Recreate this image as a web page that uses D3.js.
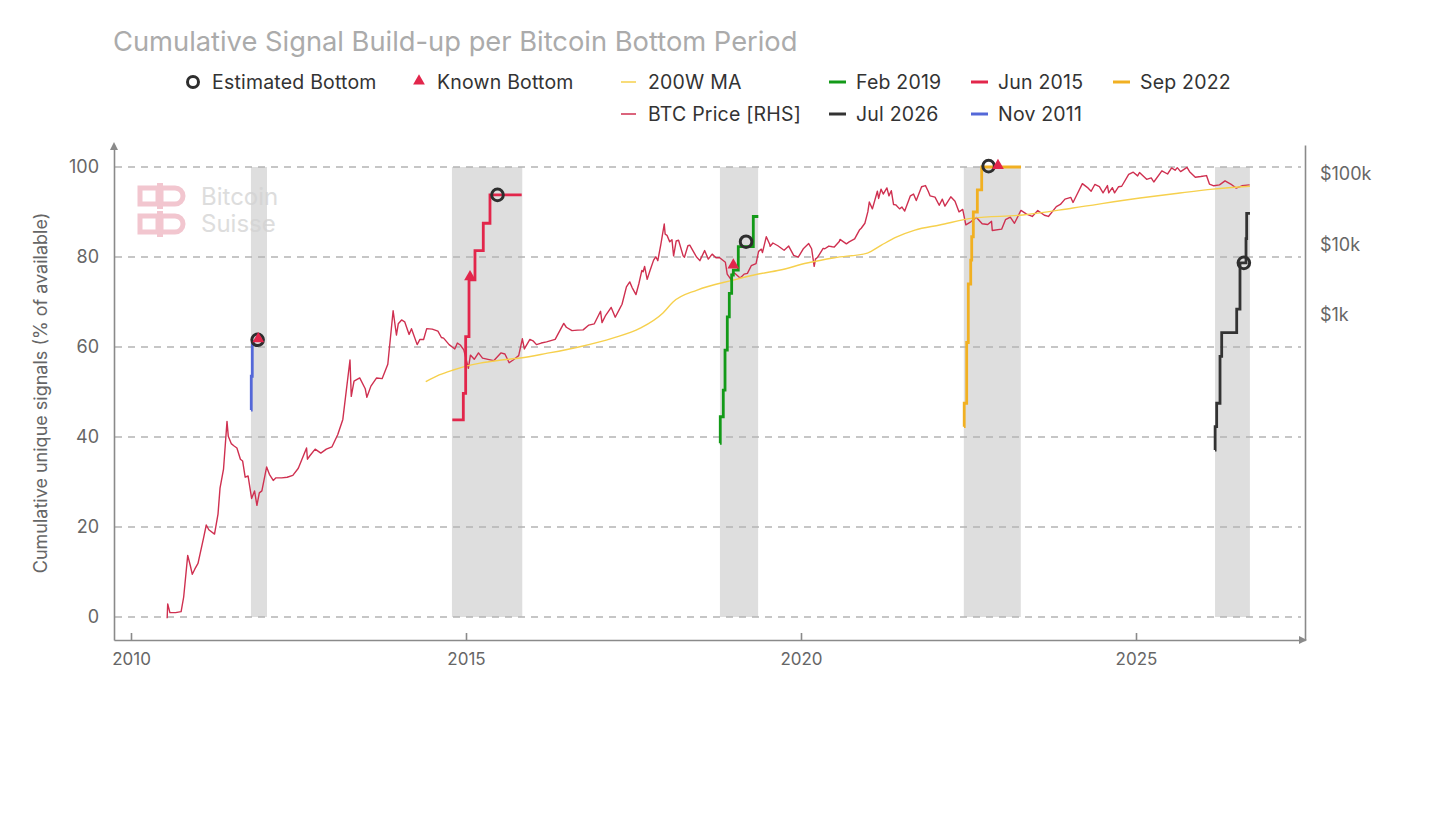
<!DOCTYPE html>
<html>
<head>
<meta charset="utf-8">
<script src="https://cdn.jsdelivr.net/npm/d3@7"></script>
<style>
  body { margin: 0; background: #fff; }
  svg { display: block; font-family: Inter, "Noto Sans", sans-serif; }
</style>
</head>
<body>
<script>
// ---- data ----
var btcPrice = [
  ["2010-07-17",0.05],["2010-07-20",0.08],["2010-08-01",0.06],["2010-09-01",0.06],["2010-10-01",0.062],
  ["2010-10-15",0.10],["2010-11-06",0.39],["2010-11-20",0.28],["2010-12-01",0.21],["2010-12-15",0.25],
  ["2011-01-01",0.30],["2011-02-01",0.70],["2011-02-15",1.05],["2011-03-01",0.90],["2011-04-01",0.78],
  ["2011-04-20",1.5],["2011-05-01",3.5],["2011-05-20",6.5],["2011-06-08",31],["2011-06-15",19],
  ["2011-07-01",15],["2011-07-15",14],["2011-08-01",13],["2011-08-20",9],["2011-09-01",8.5],
  ["2011-09-15",5],["2011-10-01",5.2],["2011-10-20",2.5],["2011-11-05",3.2],["2011-11-18",2.0],
  ["2011-12-01",3],["2011-12-15",3.2],["2012-01-10",7],["2012-01-25",5.5],["2012-02-15",4.5],
  ["2012-03-01",4.9],["2012-04-01",4.9],["2012-05-01",5.0],["2012-06-01",5.3],["2012-07-01",6.7],
  ["2012-08-15",13],["2012-08-20",9],["2012-09-01",10],["2012-10-01",12.5],["2012-11-01",11],
  ["2012-12-01",12.5],["2013-01-01",13.5],["2013-02-01",20],["2013-03-01",33],["2013-04-09",230],
  ["2013-04-16",70],["2013-05-01",115],["2013-06-01",128],["2013-07-01",90],["2013-07-10",68],
  ["2013-08-01",98],["2013-09-01",128],["2013-10-01",125],["2013-11-01",200],["2013-11-30",1150],
  ["2013-12-18",520],["2013-12-28",750],["2014-01-15",850],["2014-02-01",800],["2014-02-25",530],
  ["2014-03-10",640],["2014-04-10",380],["2014-04-25",450],["2014-05-15",450],["2014-06-01",640],
  ["2014-07-01",630],["2014-08-01",590],["2014-08-20",480],["2014-09-01",470],["2014-10-01",380],
  ["2014-11-01",330],["2014-11-15",400],["2014-12-01",375],["2014-12-20",320],["2015-01-14",175],
  ["2015-01-25",270],["2015-02-15",235],["2015-03-10",290],["2015-04-01",245],["2015-05-01",235],
  ["2015-06-01",225],["2015-07-10",290],["2015-08-01",280],["2015-08-24",210],["2015-09-15",230],
  ["2015-10-15",265],["2015-11-04",460],["2015-11-15",330],["2015-12-15",450],["2016-01-01",430],
  ["2016-01-20",380],["2016-02-15",400],["2016-03-15",415],["2016-05-01",450],["2016-06-17",760],
  ["2016-07-01",670],["2016-08-01",600],["2016-09-01",610],["2016-10-01",615],["2016-11-01",720],
  ["2016-12-01",750],["2017-01-04",1130],["2017-01-12",780],["2017-02-01",990],["2017-03-03",1280],
  ["2017-03-25",930],["2017-04-15",1180],["2017-05-01",1420],["2017-05-25",2500],["2017-06-12",2950],
  ["2017-06-25",2450],["2017-07-16",1950],["2017-08-01",2800],["2017-08-17",4300],["2017-08-24",4100],
  ["2017-09-01",4900],["2017-09-15",3200],["2017-10-01",4300],["2017-10-20",6000],["2017-11-01",6700],
  ["2017-11-12",5900],["2017-11-28",9900],["2017-12-17",19500],["2017-12-22",14000],["2018-01-01",13500],
  ["2018-01-16",10900],["2018-01-28",11700],["2018-02-06",6900],["2018-02-20",11200],["2018-03-05",11500],
  ["2018-03-30",6900],["2018-04-06",6600],["2018-04-25",9600],["2018-05-05",9800],["2018-06-10",6700],
  ["2018-06-29",5900],["2018-07-25",8200],["2018-08-14",6200],["2018-09-04",7300],["2018-09-25",6500],
  ["2018-10-15",6500],["2018-11-15",5600],["2018-11-25",3800],["2018-12-15",3200],["2018-12-25",4000],
  ["2019-01-05",3900],["2019-01-28",3450],["2019-02-07",3400],["2019-02-25",3800],["2019-03-15",3900],
  ["2019-04-05",5000],["2019-05-01",5350],["2019-05-15",8000],["2019-05-30",8600],["2019-06-05",7700],
  ["2019-06-26",12900],["2019-07-15",10000],["2019-07-17",9400],["2019-08-01",10500],["2019-08-28",9600],
  ["2019-09-25",8500],["2019-10-01",8300],["2019-10-26",9500],["2019-11-22",7000],["2019-12-17",6600],
  ["2020-01-15",8800],["2020-02-12",10300],["2020-02-28",8700],["2020-03-13",4900],["2020-03-20",6200],
  ["2020-04-01",6600],["2020-05-01",8800],["2020-05-10",8700],["2020-06-01",9500],["2020-06-20",9300],
  ["2020-07-01",9200],["2020-07-28",11000],["2020-08-01",11800],["2020-09-05",10200],["2020-09-20",10900],
  ["2020-10-20",12000],["2020-11-15",16000],["2020-11-25",17000],["2020-12-15",20000],["2020-12-31",29000],
  ["2021-01-08",40000],["2021-01-25",32000],["2021-02-21",57000],["2021-02-28",45000],["2021-03-13",61000],
  ["2021-03-25",52000],["2021-04-14",63500],["2021-04-25",49000],["2021-05-08",58000],["2021-05-20",37000],
  ["2021-06-01",36500],["2021-06-22",32000],["2021-07-05",34000],["2021-07-20",29800],["2021-08-20",49000],
  ["2021-09-06",52000],["2021-09-21",42000],["2021-10-20",66000],["2021-11-10",68500],["2021-11-25",57000],
  ["2021-12-05",49000],["2022-01-01",47000],["2022-01-24",36000],["2022-02-10",44000],["2022-02-24",35000],
  ["2022-03-28",47500],["2022-04-20",41000],["2022-05-12",29000],["2022-06-01",31500],["2022-06-18",19000],
  ["2022-07-15",21000],["2022-08-15",24200],["2022-09-15",19700],["2022-10-15",19200],["2022-11-05",21300],
  ["2022-11-09",15800],["2022-12-30",16500],["2023-01-20",22500],["2023-02-15",24500],["2023-03-10",20000],
  ["2023-04-14",30500],["2023-05-15",27000],["2023-06-15",25000],["2023-07-15",30300],["2023-08-20",26000],
  ["2023-09-11",25000],["2023-10-24",34500],["2023-11-15",37000],["2023-12-10",44000],["2024-01-11",46500],
  ["2024-01-23",39500],["2024-02-15",52000],["2024-03-14",73000],["2024-04-15",63000],["2024-05-01",57000],
  ["2024-05-21",71000],["2024-06-15",66000],["2024-07-05",54000],["2024-07-29",68500],["2024-08-05",54000],
  ["2024-08-25",64000],["2024-09-06",54000],["2024-09-28",66000],["2024-10-15",67000],["2024-11-22",98500],
  ["2024-12-17",106000],["2025-01-10",94000],["2025-01-20",105000],["2025-02-28",84000],["2025-03-25",88000],
  ["2025-04-08",77000],["2025-05-22",111000],["2025-06-22",100000],["2025-07-14",122000],["2025-08-02",113000],
  ["2025-08-14",123000],["2025-09-01",108000],["2025-10-06",124000],["2025-10-20",108000],["2025-11-20",90000],
  ["2025-12-20",92000],["2026-01-20",95000],["2026-02-05",72000],["2026-03-01",68000],["2026-04-01",70000],
  ["2026-05-01",80000],["2026-06-01",72000],["2026-07-01",63000],["2026-08-01",68000],["2026-09-12",70000]
];

var maYears = [2014.40,2014.60,2014.81,2015.00,2015.21,2015.50,2015.81,2016.20,2016.70,2017.19,2017.60,2017.94,
  2018.09,2018.45,2018.99,2019.30,2019.69,2020.09,2020.50,2020.99,2021.20,2021.43,2021.70,2022.07,2022.57,
  2023.31,2024.06,2025.06,2025.60,2026.15,2026.70];
var maValues = [113,141,166,188,208,228,245,285,355,470,650,1070,1530,2260,3130,3700,4350,5460,6500,7560,9800,
  12800,16000,18900,23700,26200,32900,45700,53000,61000,67000];

var nov2011Years = [2011.790, 2011.795, 2011.810, 2011.825];
var nov2011Vals  = [46, 53.5, 60.5, 61.5];
var jun2015Years = [2014.796, 2014.960, 2014.995, 2015.045, 2015.134, 2015.258, 2015.358, 2015.831];
var jun2015Vals  = [43.8, 49.7, 62.3, 74.9, 81.4, 87.5, 93.8, 93.8];
var feb2019Years = [2018.790, 2018.795, 2018.840, 2018.866, 2018.900, 2018.930, 2018.965, 2018.990, 2019.064, 2019.288, 2019.363];
var feb2019Vals  = [38.6, 44.5, 50.4, 59.3, 66.7, 71.9, 76.0, 77.1, 82.3, 89.0, 89.0];
var sep2022Years = [2022.433, 2022.436, 2022.473, 2022.497, 2022.533, 2022.548, 2022.572, 2022.632, 2022.697, 2023.284];
var sep2022Vals  = [42.3, 47.5, 61.0, 74.0, 79.3, 84.5, 90.0, 94.9, 100, 100];
var jul2026Years = [2026.179, 2026.181, 2026.204, 2026.254, 2026.279, 2026.503, 2026.552, 2026.642, 2026.652, 2026.701];
var jul2026Vals  = [37.1, 42.3, 47.5, 57.9, 63.2, 68.4, 78.7, 84.1, 89.7, 89.7];

// shaded bottom periods [start, end]
var bandStarts = [2011.79, 2014.79, 2018.79, 2022.43, 2026.18];
var bandEnds   = [2012.03, 2015.84, 2019.36, 2023.28, 2026.70];

var estYears = [2011.89, 2015.47, 2019.18, 2022.80, 2026.61];
var estVals  = [61.6, 93.8, 83.4, 100.2, 78.7];
var knownYears = [2011.90, 2015.06, 2018.99, 2022.94];
var knownVals  = [61.8, 75.6, 78.2, 100.3];

var xTicks = [2010, 2015, 2020, 2025];
var yTicks = [0, 20, 40, 60, 80, 100];
var priceTicks = [1000, 10000, 100000];
var priceTickLabels = ["$1k", "$10k", "$100k"];

// ---- setup ----
var W = 1440, H = 829;
var svg = d3.select("body").append("svg").attr("width", W).attr("height", H);

var toYear = function(s){
  var d = new Date(s + "T00:00:00Z"), yr = d.getUTCFullYear();
  var a = Date.UTC(yr,0,1), b = Date.UTC(yr+1,0,1);
  return yr + (d - a) / (b - a);
};
btcPrice.sort(function(a, b){ return a[0] < b[0] ? -1 : 1; });

var pL = 114, pR = 1305, pT = 145, pB = 640;
var x = d3.scaleLinear().domain([2010 - 17/67, 2010 + (pR - 131)/67]).range([pL, pR]);
var y = d3.scaleLinear().domain([-(pB - 617)/4.5, 100 + (167 - pT)/4.5]).range([pB, pT]);
var yP = d3.scaleLog().domain([Math.pow(10, 3 - (pB - 315)/70.5), Math.pow(10, 5 + (174 - pT)/70.5)]).range([pB, pT]);

// title
svg.append("text").attr("x", 113).attr("y", 51).attr("font-size", 27.3).attr("fill", "#ababab")
  .text("Cumulative Signal Build-up per Bitcoin Bottom Period");

// bands
svg.append("g").selectAll("rect").data(bandStarts).enter().append("rect")
  .attr("x", function(d){ return x(d); })
  .attr("width", function(d,i){ return x(bandEnds[i]) - x(d); })
  .attr("y", y(100)).attr("height", y(0) - y(100))
  .attr("fill", "#dedede");

// watermark (over the bands, semi transparent)
var wm = svg.append("g").attr("opacity", 0.75);
[0, 1].forEach(function(r){
  var oy = 185 + r * 28;
  wm.append("rect").attr("x", 140).attr("y", oy + 3).attr("width", 18).attr("height", 16).attr("fill", "none")
    .attr("stroke", "#eeb3c0").attr("stroke-width", 5);
  wm.append("path").attr("d", "M161," + (oy+3) + " h14 a8,8 0 0 1 0,16 h-14 z").attr("fill", "none")
    .attr("stroke", "#eeb3c0").attr("stroke-width", 5);
  wm.append("rect").attr("x", 157).attr("y", oy - 2).attr("width", 6).attr("height", 26).attr("fill", "#eeb3c0");
});
wm.append("text").attr("x", 201).attr("y", 205).attr("font-size", 24).attr("fill", "#d2d2d2").text("Bitcoin");
wm.append("text").attr("x", 201).attr("y", 232).attr("font-size", 24).attr("fill", "#d2d2d2").text("Suisse");

// grid
svg.append("g").selectAll("line").data(yTicks).enter().append("line")
  .attr("x1", pL + 1).attr("x2", pR - 4)
  .attr("y1", function(d){ return y(d); }).attr("y2", function(d){ return y(d); })
  .attr("stroke", "#b4b4b4").attr("stroke-width", 1.5).attr("stroke-dasharray", "7,6");

// price + MA
var priceLine = d3.line().x(function(d){ return x(toYear(d[0])); }).y(function(d){ return yP(d[1]); });
svg.append("path").attr("d", priceLine(btcPrice)).attr("fill", "none")
  .attr("stroke", "#cf3050").attr("stroke-width", 1.4).attr("stroke-linejoin", "round");

var maLine = d3.line().curve(d3.curveMonotoneX).x(function(d){ return x(d); }).y(function(d,i){ return yP(maValues[i]); });
svg.append("path").attr("d", maLine(maYears)).attr("fill", "none")
  .attr("stroke", "#f6d04d").attr("stroke-width", 1.4);

// step series
var steps = [
  [nov2011Years, nov2011Vals, "#5468d8"],
  [jun2015Years, jun2015Vals, "#e2264b"],
  [feb2019Years, feb2019Vals, "#139a18"],
  [sep2022Years, sep2022Vals, "#f1b022"],
  [jul2026Years, jul2026Vals, "#333333"]
];
var stepLine = d3.line().curve(d3.curveStepAfter);
steps.forEach(function(s){
  var pts = s[0].map(function(d,i){ return [x(d), y(s[1][i])]; });
  svg.append("path").attr("d", stepLine(pts)).attr("fill", "none")
    .attr("stroke", s[2]).attr("stroke-width", 2.8);
});

// markers
var tri = d3.symbol().type(d3.symbolTriangle).size(60);
svg.append("g").selectAll("circle").data(estYears).enter().append("circle")
  .attr("cx", function(d){ return x(d); }).attr("cy", function(d,i){ return y(estVals[i]); })
  .attr("r", 5.8).attr("fill", "none").attr("stroke", "#2e2e2e").attr("stroke-width", 3);
svg.append("g").selectAll("path").data(knownYears).enter().append("path")
  .attr("d", tri)
  .attr("transform", function(d,i){ return "translate(" + x(d) + "," + y(knownVals[i]) + ")"; })
  .attr("fill", "#e2264b");

// axes
var axisColor = "#8a8a8a";
var gx = svg.append("g").attr("transform", "translate(0," + pB + ")")
  .call(d3.axisBottom(x).tickValues(xTicks).tickFormat(d3.format("d")).tickSize(-7).tickSizeOuter(0).tickPadding(13));
var gl = svg.append("g").attr("transform", "translate(" + pL + ",0)")
  .call(d3.axisLeft(y).tickValues(yTicks).tickSize(0).tickSizeOuter(0).tickPadding(15));
var gr = svg.append("g").attr("transform", "translate(" + pR + ",0)")
  .call(d3.axisRight(yP).tickValues(priceTicks).tickFormat(function(d,i){ return priceTickLabels[i]; })
    .tickSize(0).tickSizeOuter(0).tickPadding(15));
[gx, gl, gr].forEach(function(g){
  g.select(".domain").attr("stroke", axisColor).attr("stroke-width", 1.6);
  g.selectAll(".tick line").attr("stroke", axisColor).attr("stroke-width", 1.6);
  g.selectAll(".tick text").attr("fill", "#666").attr("font-family", "Inter, 'Noto Sans', sans-serif");
});
gx.selectAll(".tick text").attr("font-size", 17);
gl.selectAll(".tick text").attr("font-size", 18);
gr.selectAll(".tick text").attr("font-size", 18);

// arrowheads
svg.append("path").attr("d", "M" + pL + "," + (pT - 3) + " l-4,8 h8 z").attr("fill", axisColor);
svg.append("path").attr("d", "M" + (pR + 2) + "," + pB + " l-8,-4 v8 z").attr("fill", axisColor);

// y label
svg.append("text").attr("transform", "translate(47,393) rotate(-90)").attr("text-anchor", "middle")
  .attr("font-size", 18).attr("fill", "#666").text("Cumulative unique signals (% of available)");

// legend
var legendItems = [
  {label: "Estimated Bottom", kind: "circle", color: "#2e2e2e"},
  {label: "Known Bottom", kind: "triangle", color: "#e2264b"},
  {label: "200W MA", kind: "thin", color: "#f6d04d"},
  {label: "Feb 2019", kind: "line", color: "#139a18"},
  {label: "Jun 2015", kind: "line", color: "#e2264b"},
  {label: "Sep 2022", kind: "line", color: "#f1b022"},
  {label: "BTC Price [RHS]", kind: "thin", color: "#cf3050"},
  {label: "Jul 2026", kind: "line", color: "#333333"},
  {label: "Nov 2011", kind: "line", color: "#5468d8"}
];
var legendCols = [186, 411, 621, 829, 971, 1113, 621, 829, 971];
var legendRows = [82, 82, 82, 82, 82, 82, 114, 114, 114];
var lg = svg.append("g");
legendItems.forEach(function(it, i){
  var g = lg.append("g").attr("transform", "translate(" + legendCols[i] + "," + legendRows[i] + ")");
  if (it.kind === "circle") {
    g.append("circle").attr("cx", 7).attr("cy", 0).attr("r", 5.5).attr("fill", "none").attr("stroke", it.color).attr("stroke-width", 3);
  } else if (it.kind === "triangle") {
    g.append("path").attr("d", tri).attr("transform", "translate(8,-1)").attr("fill", it.color);
  } else {
    g.append("line").attr("x1", 0).attr("x2", it.kind === "thin" ? 15 : 17).attr("y1", 0).attr("y2", 0)
      .attr("stroke", it.color).attr("stroke-width", it.kind === "thin" ? 1.5 : 3);
  }
  g.append("text").attr("x", it.kind === "circle" || it.kind === "triangle" ? 26 : 27).attr("y", 6.5)
    .attr("font-size", 19.5).attr("letter-spacing", 0.2).attr("fill", "#333").text(it.label);
});
</script>
</body>
</html>
